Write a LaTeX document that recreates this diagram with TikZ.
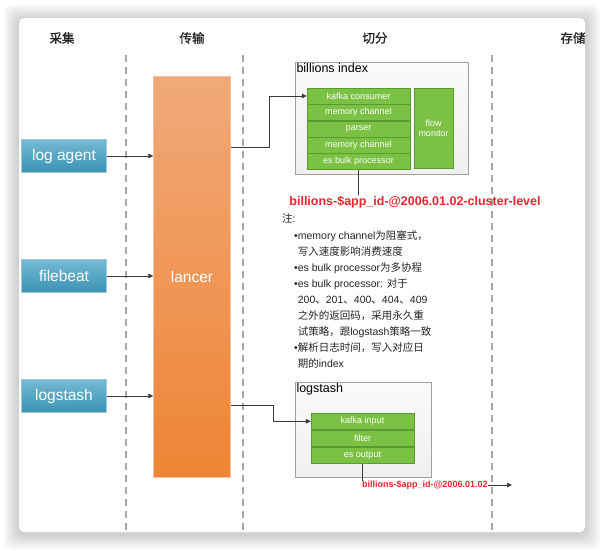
\documentclass[tikz,border=0pt]{standalone}
\usepackage{fontspec}
\setmainfont{Liberation Sans}
\newfontfamily\cjk{Noto Sans CJK SC}
\newfontfamily\cjkhead[FakeBold=1.2]{Noto Sans CJK SC}
\usetikzlibrary{arrows.meta,calc,positioning}
\definecolor{srctop}{HTML}{74BAD4}
\definecolor{srcbot}{HTML}{3C92B4}
\definecolor{lanctop}{HTML}{F1A979}
\definecolor{lancbot}{HTML}{EE8535}
\definecolor{stagegreen}{HTML}{7BC143}
\definecolor{stageline}{HTML}{5A9A33}
\definecolor{idxred}{HTML}{E8262C}
\newcommand\zh[1]{{\cjk #1}}
\tikzset{src/.style={draw=srctop!70!white,top color=srctop,bottom color=srcbot,text=white,
    minimum width=85pt,minimum height=33pt,inner sep=0pt,font=\fontsize{15.5}{17}\selectfont},
  hub/.style={draw=lanctop!70!white,top color=lanctop,bottom color=lancbot,text=white,
    minimum width=77pt,minimum height=401pt,inner sep=0pt,font=\fontsize{15.5}{17}\selectfont},
  stage/.style={draw=stageline,fill=stagegreen,text=white,minimum width=103pt,minimum height=16pt,
    inner sep=0pt,font=\fontsize{9}{10}\selectfont},
  group/.style={draw=gray!75,top color=gray!4,bottom color=gray!12,inner sep=0pt},
  arr/.style={-{Triangle[length=5pt,width=4.5pt]},draw=gray!45!black,line width=0.7pt},
  wire/.style={draw=gray!45!black,line width=0.7pt}}

\begin{document}
\begin{tikzpicture}[x=1pt,y=-1pt,
 lane/.style={gray!70,line width=1.1pt,dash pattern=on 7pt off 5pt},
 head/.style={font=\cjkhead\fontsize{12.5}{14}\selectfont,text=black!85},
 grouplbl/.style={anchor=north west,inner sep=1.5pt,font=\fontsize{12.5}{14}\selectfont},
 note/.style={inner sep=0pt,align=left,text=black!85,font=\fontsize{10.5}{16}\selectfont}]
\useasboundingbox (0,0) rectangle (604,550);
% card with soft shadow
\foreach \i in {1,...,16}
  \fill[black,opacity=0.012,rounded corners=8pt] (19-\i,20-\i) rectangle (585+\i,534+\i);
\fill[white,rounded corners=5pt] (19,18) rectangle (585,532);
\begin{scope}
\clip[rounded corners=5pt] (19,18) rectangle (585,532);
\node[head] (hcollect) at (62,38) {采集};
\node[head] (htrans) at (192,38) {传输};
\node[head] (hsplit) at (375,38) {切分};
\node[head] (hstore) at (573,38) {存储};
\end{scope}
\foreach \x in {126,243,492}
  \draw[lane] (\x,55) -- (\x,532);

% sources and transport
\node[src] (agent) at (64,156) {log agent};
\node[src] (beat) at (64,276) {filebeat};
\node[src] (lsrc) at (64,396) {logstash};
\node[hub] (lancer) at (192,276.5) {lancer};
\draw[arr] (agent.east) -- (agent.east -| lancer.west);
\draw[arr] (beat.east) -- (beat.east -| lancer.west);
\draw[arr] (lsrc.east) -- (lsrc.east -| lancer.west);

% billions index
\node[group,minimum width=173pt,minimum height=112pt] (bidx) at (381.5,118) {};
\node[grouplbl] (bidxlbl) at (bidx.north west) {billions index};
\node[stage] (kcons) at (358.5,96) {kafka consumer};
\node[stage,below=0pt of kcons] (mch1) {memory channel};
\node[stage,below=0pt of mch1] (parse) {parser};
\node[stage,below=0pt of parse] (mch2) {memory channel};
\node[stage,below=0pt of mch2] (bulk) {es bulk processor};
\node[stage,minimum width=39pt,minimum height=80pt,align=center] (flow) at (433.5,128) {flow\\monitor};
\coordinate (bend1) at (269,147);
\draw[arr] (bend1 -| lancer.east) -- (bend1) |- (kcons.west);
\node[text=idxred,font=\bfseries\fontsize{12.5}{14}\selectfont,inner sep=1pt] (idxname) at (415,202)
  {billions-\$app\_id-@2006.01.02-cluster-level};
\draw[wire] (bulk.south) -- (bulk.south |- idxname.north);

% notes
\node[note,anchor=west] (notehd) at (282,218) {\zh{注}:};
\node[note,anchor=north west] (notes) at (294,230) {%
•memory channel\zh{为阻塞式，}\\
\phantom{•}\zh{写入速度影响消费速度}\\
•es bulk processor\zh{为多协程}\\
•es bulk processor: \zh{对于}\\
\phantom{•}200\zh{、}201\zh{、}400\zh{、}404\zh{、}409\\
\phantom{•}\zh{之外的返回码，采用永久重}\\
\phantom{•}\zh{试策略，跟}logstash\zh{策略一致}\\
•\zh{解析日志时间，写入对应日}\\
\phantom{•}\zh{期的}index};

% logstash
\node[group,minimum width=136pt,minimum height=95pt] (lsgrp) at (363,429.5) {};
\node[grouplbl] (lsgrplbl) at (lsgrp.north west) {logstash};
\node[stage,minimum height=16.5pt] (kin) at (362.5,421.25) {kafka input};
\node[stage,minimum height=16.5pt,below=0pt of kin] (filter) {filter};
\node[stage,minimum height=16.5pt,below=0pt of filter] (esout) {es output};
\coordinate (bend2) at (273,405);
\draw[arr] (bend2 -| lancer.east) -- (bend2) |- (kin.west);
\node[text=idxred,font=\bfseries\fontsize{9}{10}\selectfont,anchor=west,inner sep=0pt] (outname) at (362,485)
  {billions-\$app\_id-@2006.01.02};
\draw[wire] (esout.south) -- (esout.south |- outname.north);
\coordinate (outend) at (512,485);
\draw[arr] (outname.east) -- (outend);
\end{tikzpicture}
\end{document}
